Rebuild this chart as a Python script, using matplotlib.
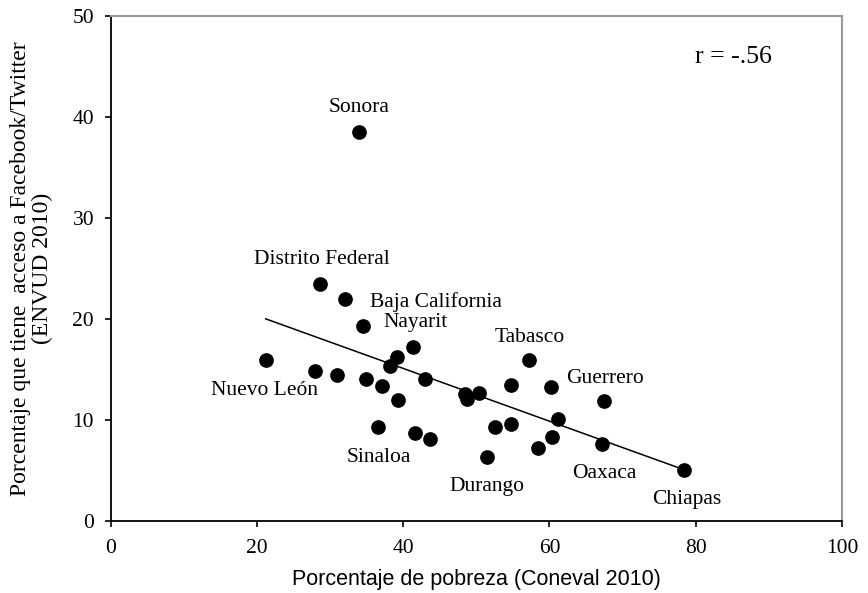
import numpy as np
import matplotlib
matplotlib.use("Agg")
import matplotlib.pyplot as plt

# Poverty rate (Coneval 2010) vs. share with Facebook/Twitter access (ENVUD 2010)
states = [
    "Sonora", "Distrito Federal", "Baja California", "Nayarit", "", "", "",
    "Nuevo León", "", "", "", "", "", "", "Sinaloa", "", "",
    "", "", "", "Tabasco", "", "", "Guerrero", "", "", "", "", "",
    "Oaxaca", "Durango", "Chiapas",
]
pobreza = [
    33.9, 28.6, 32.0, 34.5, 41.4, 39.2, 38.2,
    21.2, 28.0, 30.9, 34.9, 43.0, 37.1, 39.3, 36.6, 41.6, 43.7,
    48.4, 48.7, 50.3, 57.2, 54.7, 60.2, 67.5, 61.2, 52.6, 54.7, 60.4, 58.4,
    67.2, 51.4, 78.4,
]
acceso = [
    38.5, 23.5, 22.0, 19.3, 17.2, 16.2, 15.3,
    15.9, 14.8, 14.4, 14.05, 14.05, 13.4, 12.0, 9.3, 8.7, 8.1,
    12.6, 12.1, 12.7, 15.9, 13.5, 13.3, 11.9, 10.1, 9.3, 9.6, 8.3, 7.2,
    7.6, 6.3, 5.05,
]

# Where each state name is written
label_x = [33.9, 28.9, 44.5, 41.7, 21.1, 36.7, 57.3, 67.6, 51.4, 67.5, 78.8]
label_y = [40.9, 25.9, 21.7, 19.6, 12.9, 6.3, 18.2, 14.1, 3.4, 4.7, 2.15]
label_names = ["Sonora", "Distrito Federal", "Baja California", "Nayarit",
               "Nuevo León", "Sinaloa", "Tabasco", "Guerrero", "Durango",
               "Oaxaca", "Chiapas"]

x_ticks = [0, 20, 40, 60, 80, 100]
y_ticks = [0, 10, 20, 30, 40, 50]

serif = "Liberation Serif"
sans = "Liberation Sans"

fig = plt.figure(figsize=(8.68, 5.93), dpi=100)
ax = fig.add_axes([0.1275, 0.1214, 0.8425, 0.8521])

x = np.array(pobreza)
y = np.array(acceso)
ax.scatter(x, y, s=112, color="black", zorder=3, linewidths=0)

# Least-squares trend across the observed range
slope, intercept = np.polyfit(x, y, 1)
xs = np.array([x.min(), x.max()])
ax.plot(xs, slope * xs + intercept, color="black", lw=1.1, zorder=2)

for name, lx, ly in zip(label_names, label_x, label_y):
    ax.text(lx, ly, name, ha="center", va="center", fontsize=15.5,
            family=serif)

ax.text(85.1, 45.9, "r = -.56", ha="center", va="center", fontsize=18.5,
        family=serif)

ax.set_xlim(0, 100)
ax.set_ylim(0, 50)
ax.set_xticks(x_ticks)
ax.set_yticks(y_ticks)
ax.set_xticklabels([str(t) for t in x_ticks], fontsize=15.5, family=serif)
ax.set_yticklabels([str(t) for t in y_ticks], fontsize=15.5, family=serif)
ax.tick_params(direction="out", length=4, width=1.2, color="black")
ax.tick_params(axis="x", pad=9)
ax.tick_params(axis="y", pad=8)

for side in ("left", "bottom"):
    ax.spines[side].set_color("black")
    ax.spines[side].set_linewidth(1.3)
for side in ("top", "right"):
    ax.spines[side].set_color("#999999")
    ax.spines[side].set_linewidth(1.5)

ax.set_xlabel("Porcentaje de pobreza (Coneval 2010)", fontsize=15.5,
              family=sans, labelpad=8)
ax.set_ylabel("Porcentaje que tiene  acceso a Facebook/Twitter\n(ENVUD 2010)",
              fontsize=17, family=serif, labelpad=14, linespacing=1.05)

fig.savefig("out.png", dpi=100)
